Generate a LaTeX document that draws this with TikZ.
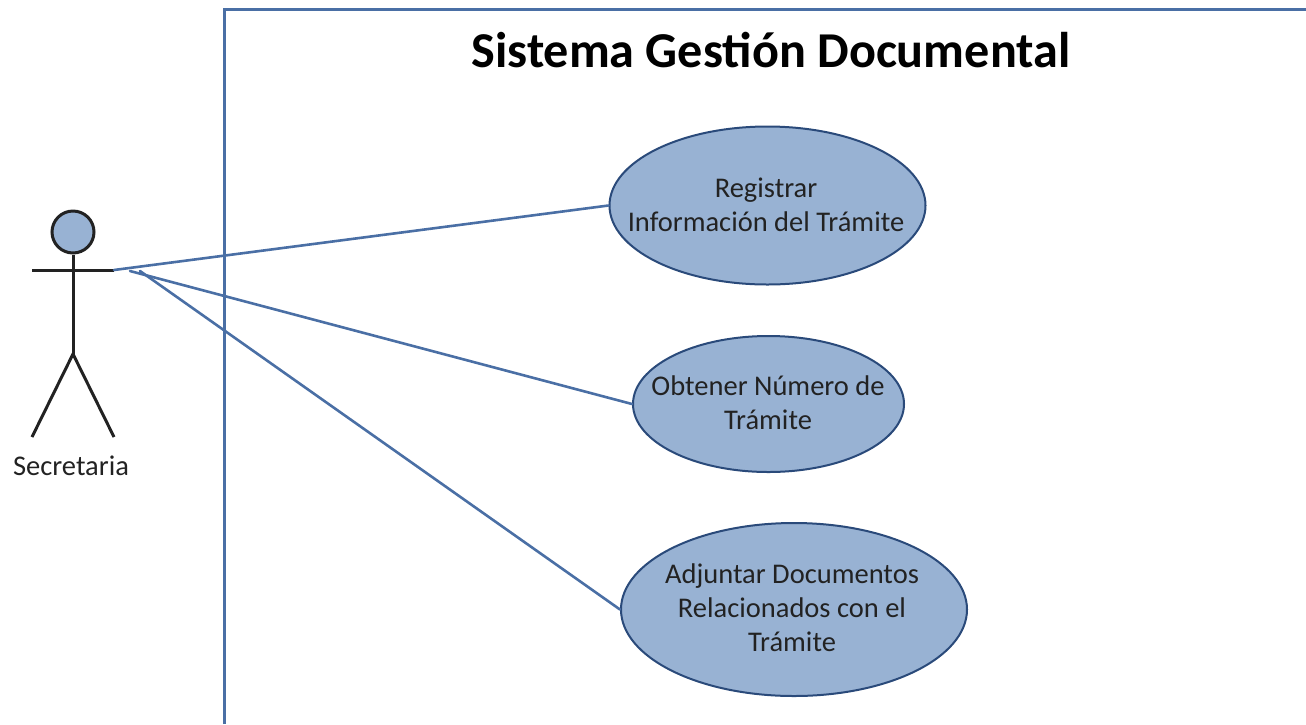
\documentclass[tikz,border=0pt]{standalone}
\usepackage{fontspec}
\setmainfont{Carlito}
\usetikzlibrary{shapes.geometric}
\definecolor{lineblue}{HTML}{4A6FA5}
\definecolor{fillblue}{HTML}{98B2D3}
\definecolor{edgeblue}{HTML}{2A4A7A}
\definecolor{textgray}{HTML}{222222}
\tikzset{
	usecase/.style={
		ellipse,
		draw=edgeblue,
		line width=2pt,
		fill=fillblue,
		inner sep=0pt
	},
	usetext/.style={
		align=center,
		inner sep=0pt,
		text=textgray,
		font=\fontsize{28.5}{34}\selectfont
	},
	assoc/.style={
		color=lineblue,
		line width=2.6pt,
		line cap=round
	},
	actorline/.style={
		color=textgray,
		line width=3pt
	}
}
\begin{document}
\begin{tikzpicture}[x=1pt,y=-1pt]
	\useasboundingbox (0,0) rectangle (1306,724);
	% Sistema
	\draw[
		color=lineblue,
		line width=3pt
	] (224,724) -- (224,9) -- (1306,9);
	\node (titulo) at (771,50) {\fontsize{50.2}{56}\selectfont\bfseries Sistema Gestión Documental};
	% Casos de uso
	\node[usecase, minimum width=316pt, minimum height=158pt] (registrar) at (767.5,205.5) {};
	\node[usecase, minimum width=271pt, minimum height=136pt] (obtener) at (768.5,404) {};
	\node[usecase, minimum width=346pt, minimum height=173pt] (adjuntar) at (794,609.5) {};
	\node[usetext] (registrartxt) at (766,204.5) {Registrar\\Información del Trámite};
	\node[usetext] (obtenertxt) at (768,403) {Obtener Número de\\Trámite};
	\node[usetext] (adjuntartxt) at (792,607.5) {Adjuntar Documentos\\Relacionados con el\\Trámite};
	% Actor
	\node[
		circle,
		draw=textgray,
		line width=3pt,
		fill=fillblue,
		minimum size=42pt,
		inner sep=0pt
	] (cabeza) at (73,232) {};
	\coordinate (cadera) at (73,354);
	\coordinate (brazoizq) at (32,270);
	\coordinate (brazoder) at (114,270);
	\coordinate (pieizq) at (32,437);
	\coordinate (pieder) at (114,437);
	\coordinate (salida2) at (130,271);
	\coordinate (salida3) at (140,271);
	\draw[actorline] (cabeza.south) -- (cadera);
	\draw[actorline] (brazoizq) -- (brazoder);
	\draw[actorline] (pieizq) -- (cadera) -- (pieder);
	\node[text=textgray] (secretaria) at (71,466) {\fontsize{28.5}{32}\selectfont Secretaria};
	% Asociaciones
	\draw[assoc] (brazoder) -- (registrar.west);
	\draw[assoc] (salida2) -- (obtener.west);
	\draw[assoc] (salida3) -- (adjuntar.west);
\end{tikzpicture}
\end{document}
